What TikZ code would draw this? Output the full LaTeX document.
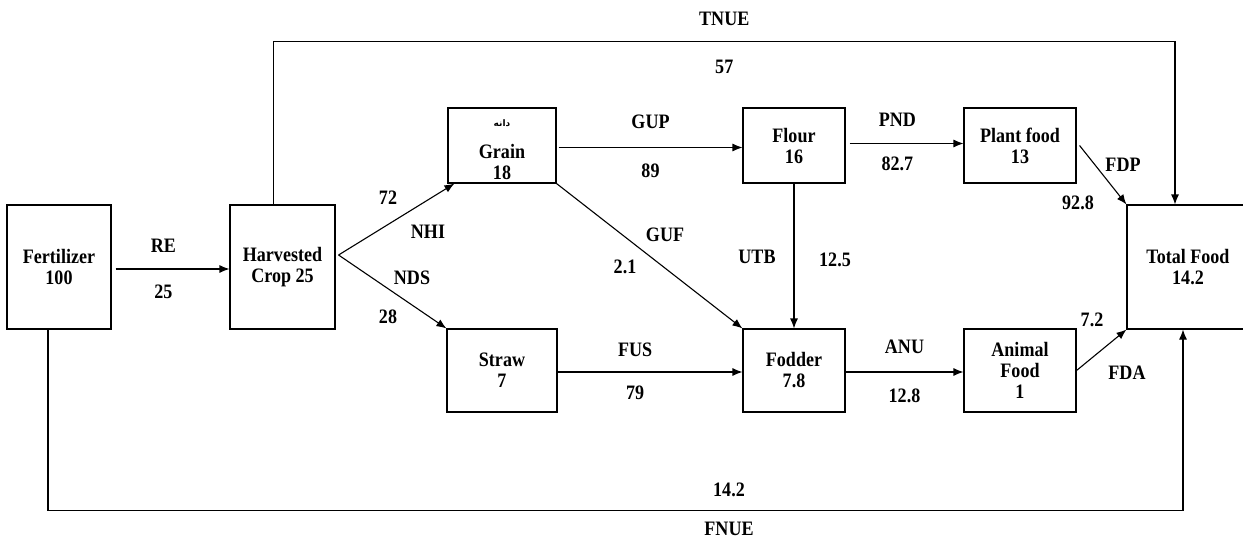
\documentclass[tikz,border=0pt]{standalone}
\usepackage{fontspec}
\setmainfont{Liberation Serif}[FakeStretch=0.88]
\newfontfamily\arabicfont[Script=Arabic]{DejaVu Sans}
\TeXXeTstate=1
\usetikzlibrary{positioning,arrows.meta}

\begin{document}
\begin{tikzpicture}[
  x=1pt, y=-1pt,
  box/.style={rectangle, draw, line width=1.1pt, align=center, inner sep=0pt, font=\bfseries\fontsize{20.5}{21}\selectfont},
  lbl/.style={inner sep=0pt, font=\bfseries\fontsize{20.5}{21}\selectfont},
  flow/.style={-{Latex[length=10pt,width=8pt]}, line width=1.1pt},
  node distance=220pt
]
\useasboundingbox (0,0) rectangle (1243,538);

\node[box, minimum width=104pt, minimum height=124pt] (fert) at (59,267) {Fertilizer\\100};
\node[box, minimum width=105pt, minimum height=124pt, right of=fert, node distance=223.5pt] (harv) {Harvested\\Crop 25};
\node[box, minimum width=108pt, minimum height=75pt] (grain) at (502,145.5) {\rule{0pt}{15pt}{\arabicfont\fontsize{9}{10}\selectfont\beginR دانه\endR}\\[11pt]Grain\\18};
\node[box, minimum width=102pt, minimum height=75pt, right of=grain, node distance=292pt] (flour) {Flour\\16};
\node[box, minimum width=112pt, minimum height=75pt, right of=flour, node distance=226pt] (plant) {Plant food\\13};
\node[box, minimum width=110pt, minimum height=83pt] (straw) at (502,370.5) {Straw\\7};
\node[box, minimum width=102pt, minimum height=83pt, right of=straw, node distance=292pt] (fodder) {Fodder\\7.8};
\node[box, minimum width=112pt, minimum height=83pt, right of=fodder, node distance=226pt] (animal) {Animal\\Food\\1};
\node[box, minimum width=122pt, minimum height=124pt] (total) at (1188,267) {Total Food\\14.2};

% Forward path
\draw[flow] ([xshift=4pt,yshift=-2pt]fert.east) -- node[lbl, pos=0.42, above=16pt] (lre) {RE} node[lbl, pos=0.42, below=15pt] (vre) {25} ([yshift=-2pt]harv.west);
\draw[flow] ([xshift=3pt,yshift=12pt]harv.east) -- ([xshift=7pt]grain.south west);
\draw[flow] ([xshift=3pt,yshift=12pt]harv.east) -- (straw.north west);
\draw[flow] ([xshift=2pt,yshift=-2pt]grain.east) -- node[lbl, above=18pt] (lgup) {GUP} node[lbl, below=16pt] (vgup) {89} ([yshift=-2pt]flour.west);
\draw[flow] ([xshift=4pt,yshift=2pt]flour.east) -- node[lbl, pos=0.42, above=16pt] (lpnd) {PND} node[lbl, pos=0.42, below=13pt] (vpnd) {82.7} ([yshift=2pt]plant.west);
\draw[flow] (grain.south east) -- (fodder.north west);
\draw[flow] (flour) -- (fodder);
\draw[flow] ([yshift=-1.5pt]straw.east) -- node[lbl, pos=0.42, above=15pt] (lfus) {FUS} node[lbl, pos=0.42, below=13pt] (vfus) {79} ([yshift=-1.5pt]fodder.west);
\draw[flow] ([yshift=-1.5pt]fodder.east) -- node[lbl, above=18pt] (lanu) {ANU} node[lbl, below=16pt] (vanu) {12.8} ([yshift=-1.5pt]animal.west);
\draw[flow] ([xshift=3pt]plant.east) -- (total.north west);
\draw[flow] (animal.east) -- (total.south west);

% Efficiency paths
\draw[flow] ([xshift=-9pt]harv.north) -- ++(0,-163) -| node[lbl, pos=0.25, above=15pt] (ltnue) {TNUE} node[lbl, pos=0.25, below=18pt] (vtnue) {57} ([xshift=-13pt]total.north);
\draw[flow] ([xshift=-11pt]fert.south) -- ++(0,181) -| node[lbl, pos=0.3, above=13pt] (vfnue) {14.2} node[lbl, pos=0.3, below=11pt] (lfnue) {FNUE} ([xshift=-5pt]total.south);

% Labels on the slanted and vertical flows
\node[lbl] (vnhi) at (388,198) {72};
\node[lbl] (lnhi) at (428,232) {NHI};
\node[lbl] (lnds) at (412,278) {NDS};
\node[lbl] (vnds) at (388,317) {28};
\node[lbl] (lguf) at (665,235) {GUF};
\node[lbl] (vguf) at (625,267) {2.1};
\node[lbl] (lutb) at (757,257) {UTB};
\node[lbl] (vutb) at (835,260) {12.5};
\node[lbl] (lfdp) at (1123,165) {FDP};
\node[lbl] (vfdp) at (1078,203) {92.8};
\node[lbl] (vfda) at (1092,320) {7.2};
\node[lbl] (lfda) at (1127,373) {FDA};
\end{tikzpicture}
\end{document}
